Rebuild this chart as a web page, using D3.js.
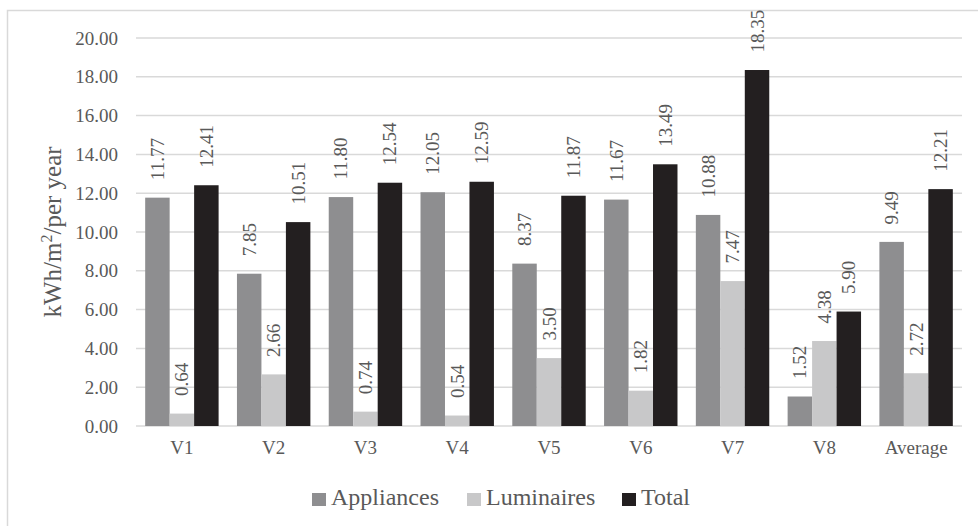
<!DOCTYPE html>
<html>
<head>
<meta charset="utf-8">
<script src="https://cdn.jsdelivr.net/npm/d3@7"></script>
<style>
  html, body { margin: 0; padding: 0; background: #fff; }
  svg { display: block; }
</style>
</head>
<body>
<svg id="chart" width="978" height="526"></svg>
<script>
// Energy use by category
const categories = ["V1", "V2", "V3", "V4", "V5", "V6", "V7", "V8", "Average"];
const seriesNames = ["Appliances", "Luminaires", "Total"];
const appliances = [11.77, 7.85, 11.80, 12.05, 8.37, 11.67, 10.88, 1.52, 9.49];
const luminaires = [0.64, 2.66, 0.74, 0.54, 3.50, 1.82, 7.47, 4.38, 2.72];
const total      = [12.41, 10.51, 12.54, 12.59, 11.87, 13.49, 18.35, 5.90, 12.21];
const yTicks = [0, 2, 4, 6, 8, 10, 12, 14, 16, 18, 20];
const colors = ["#8e8e90", "#c8c8c9", "#231f20"];

const seriesValues = [appliances, luminaires, total];
const svg = d3.select("#chart");
const font = "'Liberation Serif', 'Times New Roman', serif";
const textColor = "#595959";

// Outer frame
svg.append("rect")
  .attr("x", 7.5).attr("y", 10.5)
  .attr("width", 990).attr("height", 540)
  .attr("fill", "none").attr("stroke", "#d9d9d9").attr("stroke-width", 1.5);

const plot = { left: 136, right: 962, top: 38, bottom: 426 };

const x0 = d3.scaleBand().domain(categories)
  .range([plot.left, plot.right]).paddingInner(0.2).paddingOuter(0.1);
const x1 = d3.scaleBand().domain(seriesNames).range([0, x0.bandwidth()]);
const y = d3.scaleLinear().domain([0, 20]).range([plot.bottom, plot.top]);

// Gridlines
svg.append("g").selectAll("line").data(yTicks).join("line")
  .attr("x1", plot.left).attr("x2", plot.right)
  .attr("y1", d => y(d)).attr("y2", d => y(d))
  .attr("stroke", "#d9d9d9").attr("stroke-width", 1.5);

// Y axis labels
const yAxis = d3.axisLeft(y).tickValues(yTicks).tickFormat(d3.format(".2f")).tickSize(0).tickPadding(18);
svg.append("g").attr("transform", `translate(${plot.left},0)`).call(yAxis)
  .call(g => g.select(".domain").remove())
  .call(g => g.selectAll("text").style("font-family", font).attr("font-size", 19).attr("fill", textColor));

// X axis labels
const xAxis = d3.axisBottom(x0).tickSize(0).tickPadding(15);
svg.append("g").attr("transform", `translate(0,${plot.bottom})`).call(xAxis)
  .call(g => g.select(".domain").remove())
  .call(g => g.selectAll("text").style("font-family", font).attr("font-size", 19).attr("fill", textColor));

// Bars
const groups = svg.append("g").selectAll("g").data(categories).join("g")
  .attr("transform", d => `translate(${x0(d)},0)`);

groups.selectAll("rect")
  .data((c, i) => seriesNames.map((s, k) => ({ s, k, v: seriesValues[k][i] })))
  .join("rect")
  .attr("x", d => x1(d.s))
  .attr("y", d => y(d.v))
  .attr("width", x1.bandwidth())
  .attr("height", d => y(0) - y(d.v))
  .attr("fill", d => colors[d.k]);

// Value labels (rotated)
groups.selectAll("text.val")
  .data((c, i) => seriesNames.map((s, k) => ({ s, k, v: seriesValues[k][i] })))
  .join("text")
  .attr("class", "val")
  .attr("transform", d => `translate(${x1(d.s) + x1.bandwidth() / 2 + 6.5},${y(d.v) - 17.5}) rotate(-90)`)
  .attr("text-anchor", "start")
  .style("font-family", font).attr("font-size", 19).attr("fill", textColor)
  .text(d => d.v.toFixed(2));

// Y axis title
const yTitle = svg.append("text")
  .attr("transform", `translate(61,${(plot.top + plot.bottom) / 2}) rotate(-90)`)
  .attr("text-anchor", "middle")
  .style("font-family", font).attr("font-size", 25).attr("fill", textColor);
yTitle.append("tspan").text("kWh/m");
yTitle.append("tspan").attr("font-size", 16).attr("dy", -9).text("2");
yTitle.append("tspan").attr("dy", 9).text("/per year");

// Legend
const legendItems = [
  { name: "Appliances", x: 312 },
  { name: "Luminaires", x: 467 },
  { name: "Total", x: 622 }
];
const legend = svg.append("g").selectAll("g").data(legendItems).join("g")
  .attr("transform", d => `translate(${d.x},505)`);
legend.append("rect").attr("x", 0).attr("y", -12).attr("width", 14).attr("height", 13)
  .attr("fill", (d, i) => colors[i]);
legend.append("text").attr("x", 19).attr("y", 0)
  .style("font-family", font).attr("font-size", 24).attr("fill", textColor)
  .text(d => d.name);
</script>
</body>
</html>
